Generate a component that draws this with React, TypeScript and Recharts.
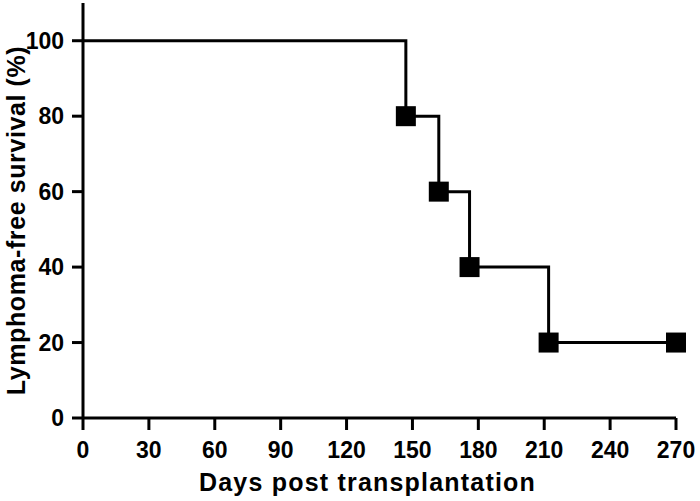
import React from 'react';
import { LineChart, Line, XAxis, YAxis, Label } from 'recharts';

const days = [0, 147, 162, 176, 212, 270];
const survival = [100, 80, 60, 40, 20, 20];
const xTicks = [0, 30, 60, 90, 120, 150, 180, 210, 240, 270];
const yTicks = [0, 20, 40, 60, 80, 100];

const data = days.map((d, i) => ({ day: d, survival: survival[i] }));

const FONT = '"Liberation Sans", Arial, Helvetica, sans-serif';

// filled square marker, skipped on the starting point
const SquareDot = (props: any) => {
  const { cx, cy, index } = props;
  if (index === 0 || cx == null || cy == null) return null;
  const s = 20;
  return <rect key={`dot-${index}`} x={cx - s / 2} y={cy - s / 2} width={s} height={s} fill="#000" />;
};

const YTitle = (props: any) => {
  const vb = props.viewBox || {};
  const x = 25;
  const y = vb.y + vb.height / 2 + 10;
  return (
    <text
      x={x}
      y={y}
      transform={`rotate(-90, ${x}, ${y})`}
      textAnchor="middle"
      fontFamily={FONT}
      fontWeight="bold"
      fontSize={25}
      letterSpacing={0.6}
      fill="#000"
    >
      Lymphoma-free survival (%)
    </text>
  );
};

const XTitle = (props: any) => {
  const vb = props.viewBox || {};
  const x = vb.x + vb.width / 2 - 12;
  const y = 491;
  return (
    <text x={x} y={y} textAnchor="middle" fontFamily={FONT} fontWeight="bold" fontSize={25} letterSpacing={1.2} fill="#000">
      Days post transplantation
    </text>
  );
};

const tickStyle = { fill: '#000', fontSize: 23, fontWeight: 'bold' as const, fontFamily: FONT };

export default function App() {
  return (
    <div style={{ position: 'absolute', left: 0, top: 0, width: 700, height: 501, background: '#fff' }}>
      <LineChart width={700} height={501} data={data} margin={{ top: 3, right: 24, left: 0, bottom: 0 }}>
        <XAxis
          dataKey="day"
          type="number"
          domain={[0, 270]}
          ticks={xTicks}
          interval={0}
          height={83}
          tickSize={12}
          tickMargin={12}
          axisLine={{ stroke: '#000', strokeWidth: 3 }}
          tickLine={{ stroke: '#000', strokeWidth: 3 }}
          tick={tickStyle}
        >
          <Label content={<XTitle />} />
        </XAxis>
        <YAxis
          type="number"
          domain={[0, 110]}
          ticks={yTicks}
          interval={0}
          width={83}
          tickSize={11}
          tickMargin={8}
          axisLine={{ stroke: '#000', strokeWidth: 3 }}
          tickLine={{ stroke: '#000', strokeWidth: 3 }}
          tick={tickStyle}
        >
          <Label content={<YTitle />} />
        </YAxis>
        <Line
          type="stepAfter"
          dataKey="survival"
          stroke="#000"
          strokeWidth={3}
          dot={<SquareDot />}
          activeDot={false}
          isAnimationActive={false}
        />
      </LineChart>
    </div>
  );
}
